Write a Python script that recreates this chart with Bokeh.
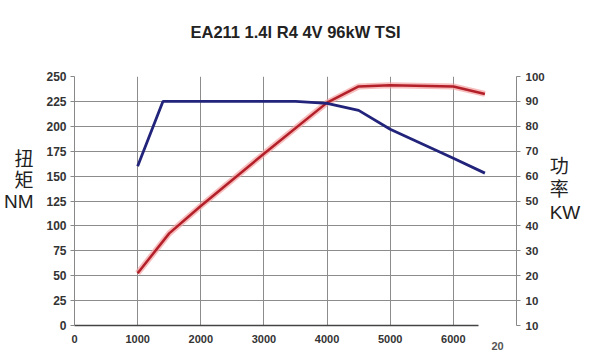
from bokeh.plotting import figure
from bokeh.models import Range1d, LinearAxis, FixedTicker, Title
from bokeh.embed import file_html
from bokeh.resources import INLINE

torque_rpm = [1000, 1400, 3500, 4000, 4500, 5000, 6000, 6500]
torque_nm = [160, 225, 225, 223, 216, 197, 168, 153]

power_rpm = [1000, 1500, 2000, 3000, 4000, 4500, 5000, 6000, 6500]
power_kw = [21, 37, 48, 69, 89.5, 96, 96.5, 96, 93]

x_ticks = [0, 1000, 2000, 3000, 4000, 5000, 6000]
left_ticks = [0, 25, 50, 75, 100, 125, 150, 175, 200, 225, 250]
right_ticks = [0, 10, 20, 30, 40, 50, 60, 70, 80, 90, 100]

title_text = "EA211 1.4l R4 4V 96kW TSI"

FONT = "Liberation Sans"
LBL_FONT = "Liberation Sans, Noto Sans CJK SC"

p = figure(width=589, height=353, output_backend="svg", toolbar_location=None,
           x_range=Range1d(0, 7000), y_range=Range1d(0, 250),
           min_border_left=71, min_border_right=73, min_border_top=76, min_border_bottom=28)
p.outline_line_color = None
p.extra_y_ranges = {"kw": Range1d(0, 100)}

t = Title(text=title_text + "\n ", align="center", vertical_align="bottom",
          text_font=FONT, text_font_style="bold",
          text_font_size="16.5px", text_color="#222222", standoff=36)
p.add_layout(t, "above")

xa = p.xaxis[0]
xa.ticker = FixedTicker(ticks=x_ticks)
xa.bounds = (0, 6400)
xa.axis_line_color = "#444444"
xa.axis_line_width = 1.5
xa.major_tick_line_color = None
xa.minor_tick_line_color = None
xa.major_label_standoff = 3
xa.major_label_text_font = FONT
xa.major_label_text_font_style = "bold"
xa.major_label_text_font_size = "11px"
xa.major_label_text_color = "#333333"

# stray "20" label under the bottom-right corner
xb = LinearAxis(ticker=FixedTicker(ticks=[6700]))
xb.major_label_overrides = {6700: "20"}
xb.axis_line_color = None
xb.major_tick_line_color = None
xb.minor_tick_line_color = None
xb.major_label_standoff = -10
xb.major_label_text_font = FONT
xb.major_label_text_font_style = "bold"
xb.major_label_text_font_size = "11px"
xb.major_label_text_color = "#555555"
p.add_layout(xb, "below")

ya = p.yaxis[0]
ya.ticker = FixedTicker(ticks=left_ticks)
ya.axis_line_color = "#888888"
ya.major_tick_line_color = "#888888"
ya.major_tick_out = 4
ya.major_tick_in = 0
ya.minor_tick_line_color = None
ya.major_label_standoff = 4
ya.major_label_text_font = FONT
ya.major_label_text_font_style = "bold"
ya.major_label_text_font_size = "12px"
ya.major_label_text_color = "#333333"
ya.axis_label = "扭\n矩\nNM\n \n "
ya.axis_label_orientation = "horizontal"
ya.axis_label_standoff = 10
ya.axis_label_text_font = LBL_FONT
ya.axis_label_text_font_style = "normal"
ya.axis_label_text_font_size = "19px"
ya.axis_label_text_line_height = 1.0
ya.axis_label_text_color = "#222222"

ra = LinearAxis(y_range_name="kw", ticker=FixedTicker(ticks=right_ticks))
ra.axis_line_color = "#888888"
ra.major_tick_line_color = "#888888"
ra.major_tick_out = 4
ra.major_tick_in = 0
ra.minor_tick_line_color = None
ra.major_label_standoff = 5
ra.major_label_text_font = FONT
ra.major_label_text_font_style = "bold"
ra.major_label_text_font_size = "11.5px"
ra.major_label_text_color = "#333333"
ra.major_label_overrides = {0: "10"}
ra.axis_label = "功\n率\nKW\n "
ra.axis_label_orientation = "horizontal"
ra.axis_label_standoff = 2
ra.axis_label_text_font = LBL_FONT
ra.axis_label_text_font_style = "normal"
ra.axis_label_text_font_size = "19px"
ra.axis_label_text_line_height = 1.1
ra.axis_label_text_color = "#222222"
p.add_layout(ra, "right")

p.xgrid.ticker = FixedTicker(ticks=x_ticks[1:])
p.ygrid.ticker = FixedTicker(ticks=left_ticks[1:])
p.xgrid.grid_line_color = "#8c8c8c"
p.ygrid.grid_line_color = "#8c8c8c"
p.xgrid.grid_line_width = 1
p.ygrid.grid_line_width = 1

# power (red with halo)
p.line(power_rpm, power_kw, y_range_name="kw", line_color="#f4a0a0", line_width=6, line_alpha=0.7)
p.line(power_rpm, power_kw, y_range_name="kw", line_color="#b3202a", line_width=2.5)
# torque (blue)
p.line(torque_rpm, torque_nm, line_color="#22237a", line_width=2.8)

open("out.html", "w").write(file_html(p, INLINE))
